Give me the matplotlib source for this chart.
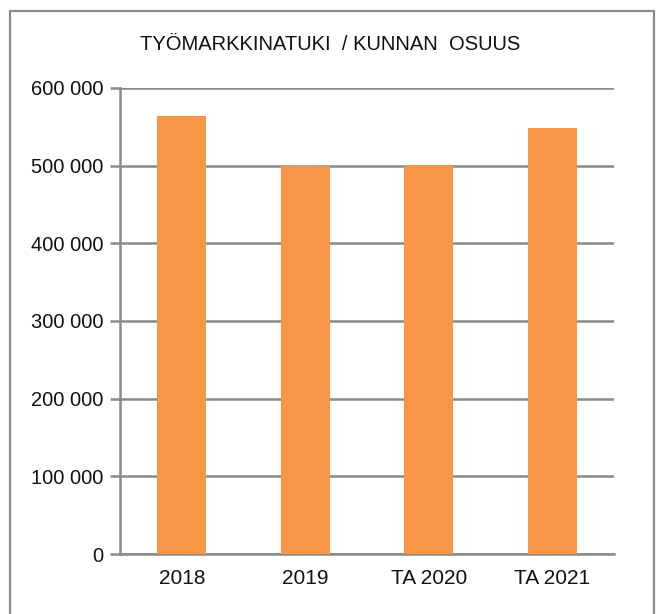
import matplotlib
matplotlib.use("Agg")
import matplotlib.pyplot as plt
from matplotlib.patches import Rectangle
from matplotlib.ticker import FuncFormatter

categories = ["2018", "2019", "TA 2020", "TA 2021"]
values = [564000, 500000, 501000, 549000]
yticks = [0, 100000, 200000, 300000, 400000, 500000, 600000]
title = "TYÖMARKKINATUKI  / KUNNAN  OSUUS"

plt.rcParams['font.family'] = ['Liberation Sans', 'DejaVu Sans']

W, H = 657, 614
fig = plt.figure(figsize=(W / 100, H / 100), dpi=100)
fig.patch.set_facecolor("white")

# outer border
fig.patches.append(Rectangle((10 / W, -0.02), 644 / W, (H - 11) / H + 0.02,
                             transform=fig.transFigure, fill=False,
                             edgecolor="#8a8a8a", linewidth=1.6))

left, right, top, bottom = 120, 614, 88, 554
ax = fig.add_axes([left / W, 1 - bottom / H, (right - left) / W, (bottom - top) / H])

x = range(len(categories))
ax.bar(x, values, width=0.4, color="#F79646", zorder=3)
ax.set_xlim(-0.5, len(categories) - 0.5)
ax.set_ylim(0, 600000)
ax.set_yticks(yticks)
ax.yaxis.set_major_formatter(FuncFormatter(lambda v, p: f"{int(v):,}".replace(",", " ")))
ax.set_xticks(list(x))
ax.set_xticklabels(categories)

ax.grid(axis="y", color="#8a8a8a", linewidth=1.8, zorder=1)
for s in ["top", "right"]:
    ax.spines[s].set_visible(False)
for s in ["left", "bottom"]:
    ax.spines[s].set_color("#8a8a8a")
    ax.spines[s].set_linewidth(1.8)
ax.tick_params(axis="y", length=7, width=1.8, color="#8a8a8a", labelsize=14.5, pad=5, labelcolor="#111111")
ax.tick_params(axis="x", length=0, labelsize=15, pad=11, labelcolor="#111111")

fig.text(330 / W, 1 - 45 / H, title, ha="center", va="center", fontsize=14.5, color="#111111")

fig.savefig("out.png", dpi=100)
